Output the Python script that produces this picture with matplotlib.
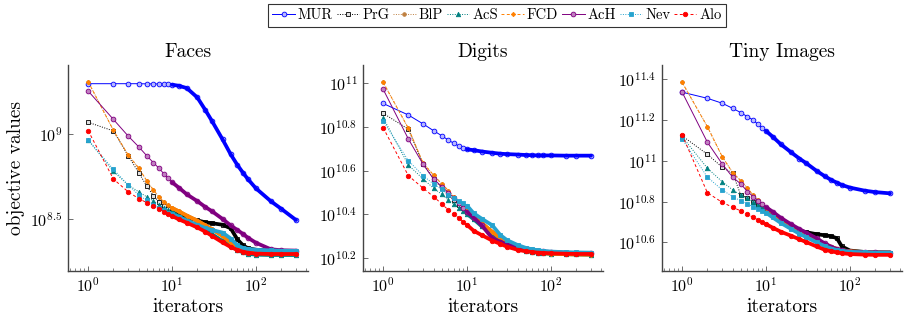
import numpy as np
import matplotlib
matplotlib.use("Agg")
import matplotlib.pyplot as plt
from matplotlib.ticker import FixedLocator, FuncFormatter, LogLocator, NullLocator, NullFormatter

plt.rcParams['font.family'] = 'serif'
plt.rcParams['font.serif'] = ['cmr10', 'DejaVu Serif']
plt.rcParams['mathtext.fontset'] = 'cm'
plt.rcParams['axes.formatter.use_mathtext'] = True

# ---------------- data (log10 of objective values) ----------------
iterations = [1, 2, 3, 4, 5, 6, 7, 8, 9, 10, 12, 15, 20, 25, 30, 40, 50, 60, 70, 80, 100, 150, 200, 300]
methods = ["MUR", "PrG", "BlP", "AcS", "FCD", "AcH", "Nev", "Alo"]
titles = ["Faces", "Digits", "Tiny Images"]

faces_MUR = [9.296, 9.296, 9.296, 9.296, 9.295, 9.295, 9.294, 9.293, 9.292, 9.290, 9.284, 9.270, 9.215, 9.140, 9.075, 8.968, 8.880, 8.818, 8.772, 8.735, 8.680, 8.605, 8.560, 8.494]
faces_PrG = [9.069, 9.018, 8.872, 8.773, 8.694, 8.637, 8.600, 8.576, 8.559, 8.543, 8.530, 8.510, 8.492, 8.480, 8.475, 8.466, 8.445, 8.380, 8.345, 8.328, 8.319, 8.313, 8.310, 8.308]
faces_BlP = [9.308, 9.022, 8.876, 8.800, 8.725, 8.670, 8.630, 8.600, 8.580, 8.565, 8.545, 8.520, 8.490, 8.462, 8.440, 8.400, 8.360, 8.335, 8.318, 8.308, 8.300, 8.296, 8.295, 8.294]
faces_AcS = [8.965, 8.780, 8.700, 8.660, 8.630, 8.606, 8.585, 8.567, 8.552, 8.540, 8.515, 8.490, 8.460, 8.435, 8.410, 8.370, 8.340, 8.318, 8.303, 8.295, 8.290, 8.288, 8.288, 8.288]
faces_FCD = [9.308, 9.022, 8.876, 8.800, 8.725, 8.670, 8.630, 8.600, 8.580, 8.565, 8.545, 8.520, 8.490, 8.462, 8.440, 8.400, 8.360, 8.335, 8.318, 8.308, 8.300, 8.296, 8.295, 8.294]
faces_AcH = [9.253, 9.086, 8.988, 8.925, 8.872, 8.831, 8.798, 8.766, 8.739, 8.716, 8.685, 8.645, 8.605, 8.570, 8.545, 8.500, 8.462, 8.435, 8.412, 8.390, 8.360, 8.322, 8.316, 8.314]
faces_Nev = [8.965, 8.792, 8.700, 8.641, 8.610, 8.585, 8.565, 8.550, 8.537, 8.527, 8.514, 8.490, 8.465, 8.447, 8.435, 8.420, 8.385, 8.345, 8.330, 8.324, 8.319, 8.315, 8.313, 8.312]
faces_Alo = [9.020, 8.735, 8.660, 8.620, 8.596, 8.576, 8.560, 8.543, 8.530, 8.518, 8.498, 8.478, 8.450, 8.425, 8.400, 8.362, 8.335, 8.318, 8.307, 8.302, 8.296, 8.294, 8.294, 8.294]

digits_MUR = [10.908, 10.855, 10.814, 10.783, 10.760, 10.740, 10.725, 10.713, 10.705, 10.698, 10.694, 10.688, 10.682, 10.678, 10.676, 10.674, 10.672, 10.671, 10.670, 10.670, 10.670, 10.669, 10.669, 10.669]
digits_PrG = [10.863, 10.790, 10.629, 10.562, 10.520, 10.489, 10.465, 10.445, 10.428, 10.412, 10.385, 10.352, 10.315, 10.285, 10.268, 10.250, 10.240, 10.234, 10.230, 10.227, 10.224, 10.221, 10.220, 10.218]
digits_BlP = [11.005, 10.794, 10.634, 10.580, 10.539, 10.509, 10.480, 10.458, 10.440, 10.425, 10.395, 10.360, 10.320, 10.290, 10.270, 10.248, 10.237, 10.230, 10.226, 10.223, 10.220, 10.218, 10.217, 10.216]
digits_AcS = [10.843, 10.626, 10.562, 10.520, 10.492, 10.466, 10.446, 10.430, 10.415, 10.402, 10.378, 10.345, 10.310, 10.284, 10.266, 10.245, 10.234, 10.228, 10.225, 10.222, 10.220, 10.218, 10.217, 10.216]
digits_FCD = [11.005, 10.794, 10.634, 10.580, 10.539, 10.509, 10.480, 10.458, 10.440, 10.425, 10.395, 10.360, 10.320, 10.290, 10.270, 10.248, 10.237, 10.230, 10.226, 10.223, 10.220, 10.218, 10.217, 10.216]
digits_AcH = [10.973, 10.745, 10.629, 10.562, 10.527, 10.500, 10.475, 10.450, 10.430, 10.412, 10.385, 10.350, 10.290, 10.275, 10.262, 10.250, 10.242, 10.237, 10.234, 10.231, 10.228, 10.225, 10.223, 10.222]
digits_Nev = [10.827, 10.646, 10.577, 10.539, 10.515, 10.490, 10.476, 10.463, 10.451, 10.440, 10.405, 10.380, 10.350, 10.305, 10.282, 10.260, 10.247, 10.240, 10.236, 10.233, 10.230, 10.227, 10.226, 10.225]
digits_Alo = [10.797, 10.577, 10.520, 10.481, 10.448, 10.420, 10.402, 10.382, 10.367, 10.352, 10.325, 10.305, 10.280, 10.265, 10.252, 10.238, 10.231, 10.228, 10.225, 10.224, 10.222, 10.220, 10.219, 10.219]

tiny_MUR = [11.335, 11.305, 11.281, 11.256, 11.235, 11.215, 11.199, 11.178, 11.161, 11.145, 11.117, 11.080, 11.040, 11.010, 10.988, 10.950, 10.924, 10.905, 10.892, 10.881, 10.868, 10.853, 10.846, 10.840]
tiny_PrG = [11.121, 11.031, 10.968, 10.938, 10.832, 10.819, 10.800, 10.785, 10.772, 10.760, 10.737, 10.708, 10.678, 10.658, 10.650, 10.640, 10.635, 10.630, 10.620, 10.580, 10.560, 10.553, 10.551, 10.550]
tiny_BlP = [11.383, 11.166, 11.020, 10.941, 10.902, 10.865, 10.832, 10.808, 10.788, 10.770, 10.745, 10.712, 10.680, 10.660, 10.642, 10.612, 10.592, 10.578, 10.568, 10.562, 10.556, 10.552, 10.551, 10.550]
tiny_AcS = [11.117, 10.963, 10.897, 10.857, 10.832, 10.816, 10.800, 10.785, 10.772, 10.760, 10.735, 10.705, 10.672, 10.650, 10.632, 10.605, 10.585, 10.572, 10.563, 10.558, 10.553, 10.551, 10.550, 10.550]
tiny_FCD = [11.383, 11.166, 11.020, 10.941, 10.902, 10.865, 10.832, 10.808, 10.788, 10.770, 10.745, 10.712, 10.680, 10.660, 10.642, 10.612, 10.592, 10.578, 10.568, 10.562, 10.556, 10.552, 10.551, 10.550]
tiny_AcH = [11.335, 11.090, 10.984, 10.919, 10.886, 10.849, 10.824, 10.803, 10.788, 10.772, 10.750, 10.720, 10.688, 10.665, 10.648, 10.620, 10.595, 10.578, 10.567, 10.561, 10.555, 10.552, 10.551, 10.550]
tiny_Nev = [11.106, 10.919, 10.857, 10.824, 10.803, 10.788, 10.775, 10.765, 10.755, 10.745, 10.722, 10.695, 10.665, 10.642, 10.626, 10.600, 10.582, 10.570, 10.562, 10.558, 10.554, 10.551, 10.550, 10.550]
tiny_Alo = [11.126, 10.843, 10.796, 10.772, 10.754, 10.738, 10.723, 10.710, 10.699, 10.689, 10.672, 10.652, 10.632, 10.615, 10.602, 10.580, 10.564, 10.556, 10.551, 10.547, 10.543, 10.540, 10.539, 10.539]

y_ticks_exp = [[8.5, 9.0], [10.2, 10.4, 10.6, 10.8, 11.0], [10.6, 10.8, 11.0, 11.2, 11.4]]
y_lims_exp = [(8.194, 9.406), (10.141, 11.084), (10.46, 11.468)]

panels = [
    [faces_MUR, faces_PrG, faces_BlP, faces_AcS, faces_FCD, faces_AcH, faces_Nev, faces_Alo],
    [digits_MUR, digits_PrG, digits_BlP, digits_AcS, digits_FCD, digits_AcH, digits_Nev, digits_Alo],
    [tiny_MUR, tiny_PrG, tiny_BlP, tiny_AcS, tiny_FCD, tiny_AcH, tiny_Nev, tiny_Alo],
]

# ---------------- styles ----------------
styles = {
    "MUR": dict(color="#0000ff", ls="-", marker="o", mfc="#b8b8ff", mec="#0000ff", ms=3.4),
    "PrG": dict(color="#000000", ls=(0, (1, 1.5)), marker="s", mfc="#e0e0e0", mec="#000000", ms=3.4),
    "BlP": dict(color="#bf8040", ls=(0, (1, 1.5)), marker="o", mfc="#bf8040", mec="#bf8040", ms=2.6),
    "AcS": dict(color="#008080", ls=(0, (1, 1.5)), marker="^", mfc="#008080", mec="#008080", ms=3.2),
    "FCD": dict(color="#ff8000", ls=(0, (3, 2.5)), marker="D", mfc="#ff8000", mec="#ff8000", ms=2.2),
    "AcH": dict(color="#800080", ls="-", marker="o", mfc="#c080c0", mec="#800080", ms=3.4),
    "Nev": dict(color="#26a3cf", ls=(0, (1, 1.5)), marker="s", mfc="#26a3cf", mec="#26a3cf", ms=3.4),
    "Alo": dict(color="#ff0000", ls=(0, (3, 2.5)), marker="o", mfc="#ff0000", mec="#ff0000", ms=3.2),
}

W, H = 909, 321
fig = plt.figure(figsize=(W / 100, H / 100), dpi=100)

ax_px = [(68, 308), (363, 603), (662, 902)]
top_px, bot_px = 65, 271

x_arr = np.array(iterations, dtype=float)
handles = []
for i, (title, series) in enumerate(zip(titles, panels)):
    l, r = ax_px[i]
    ax = fig.add_axes([l / W, 1 - bot_px / H, (r - l) / W, (bot_px - top_px) / H])
    for name, vals in zip(methods, series):
        st = styles[name]
        y = 10 ** np.array(vals)
        h, = ax.plot(x_arr, y, color=st["color"], ls=st["ls"], lw=0.7,
                     marker=st["marker"], ms=st["ms"], mfc=st["mfc"], mec=st["mec"], mew=0.6,
                     label=name)
        m = x_arr >= 10
        ax.plot(x_arr[m], y[m], color=st["color"], ls="-", lw=2.7,
                solid_capstyle="round", solid_joinstyle="round")
        if i == 0:
            handles.append(h)
    ax.set_xscale("log")
    ax.set_yscale("log")
    ax.set_xlim(10 ** -0.24, 10 ** 2.62)
    ax.set_ylim(10 ** y_lims_exp[i][0], 10 ** y_lims_exp[i][1])
    ax.xaxis.set_major_locator(FixedLocator([1, 10, 100]))
    ax.xaxis.set_major_formatter(FuncFormatter(lambda v, p: r"$10^{%d}$" % round(np.log10(v))))
    ax.xaxis.set_minor_locator(LogLocator(base=10, subs=np.arange(2, 10)))
    ax.xaxis.set_minor_formatter(NullFormatter())
    ex = y_ticks_exp[i]
    ax.yaxis.set_major_locator(FixedLocator([10 ** e for e in ex]))
    def yfmt(v, p):
        e = np.log10(v)
        if abs(e - round(e)) < 1e-6:
            return r"$10^{%d}$" % round(e)
        return r"$10^{%.1f}$" % e
    ax.yaxis.set_major_formatter(FuncFormatter(yfmt))
    ax.yaxis.set_minor_locator(NullLocator())
    ax.tick_params(axis="both", which="major", direction="in", length=3.5, width=0.6,
                   color="#555555", labelsize=11.5, pad=4)
    ax.tick_params(axis="x", which="minor", direction="in", length=2.2, width=0.5, color="#555555")
    for s in ["top", "right"]:
        ax.spines[s].set_visible(False)
    for s in ["left", "bottom"]:
        ax.spines[s].set_color("#444444")
        ax.spines[s].set_linewidth(1.0)
    ax.set_title(title, fontsize=14, pad=6)
    ax.set_xlabel("iterators", fontsize=14, labelpad=2)
    if i == 0:
        ax.set_ylabel("objective values", fontsize=14, labelpad=4)

leg = fig.legend(handles=handles, loc="center", bbox_to_anchor=(497 / W, 1 - 15.5 / H),
                 ncol=8, fontsize=10.5, frameon=True, fancybox=False, edgecolor="black",
                 handlelength=1.55, handletextpad=0.2, columnspacing=0.25, borderpad=0.3,
                 borderaxespad=0)
leg.get_frame().set_linewidth(0.8)

fig.savefig("out.png", dpi=100)
